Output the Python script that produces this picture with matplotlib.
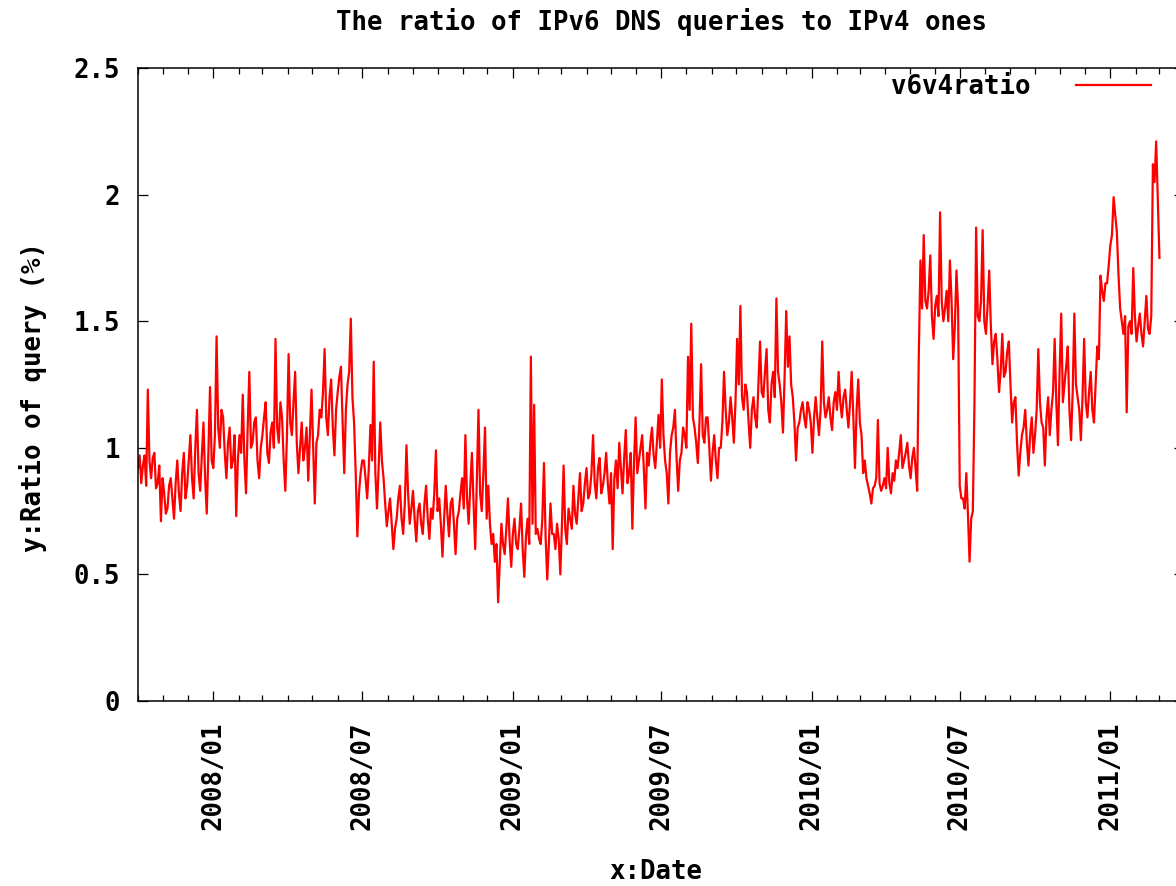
import pandas as pd
import matplotlib
matplotlib.use('Agg')
import matplotlib.pyplot as plt
import matplotlib.dates as mdates
from matplotlib.ticker import FormatStrFormatter

# v6/v4 query ratio (%), every 4 days from 2007-10-01 ...
ratio_2007q4 = [0.92, 0.86, 0.97, 1.23, 0.88, 0.98, 0.86, 0.71, 0.82, 0.76,
                0.88, 0.72, 0.95, 0.75, 0.98, 0.85, 1.05, 0.80, 1.15, 0.83,
                1.10, 0.74, 1.24]
ratio_2008h1 = [0.92, 1.44, 1.00, 1.12, 0.88, 1.08, 0.95, 0.73, 1.05, 1.21,
                0.82, 1.30, 1.02, 1.12, 0.88, 1.05, 1.18, 0.94, 1.10, 1.43,
                1.02, 1.12, 0.83, 1.37, 1.05, 1.30, 0.90, 1.10, 1.00, 0.87,
                1.23, 0.78, 1.05, 1.12, 1.39, 1.05, 1.27, 0.97, 1.22, 1.32,
                0.90, 1.25, 1.51, 1.10, 0.65, 0.90]
ratio_2008h2 = [0.95, 0.80, 1.09, 1.34, 0.76, 1.10, 0.88, 0.69, 0.80, 0.60,
                0.72, 0.85, 0.66, 1.01, 0.70, 0.83, 0.63, 0.78, 0.66, 0.85,
                0.64, 0.72, 0.99, 0.80, 0.57, 0.85, 0.65, 0.80, 0.58, 0.75,
                0.88, 1.05, 0.70, 0.98, 0.60, 1.15, 0.75, 1.08, 0.85, 0.62,
                0.55, 0.39, 0.70, 0.58, 0.80, 0.53]
ratio_2009h1 = [0.72, 0.60, 0.78, 0.49, 0.72, 1.36, 1.17, 0.68, 0.62, 0.94,
                0.48, 0.78, 0.66, 0.70, 0.50, 0.93, 0.62, 0.72, 0.85, 0.70,
                0.90, 0.78, 0.92, 0.82, 1.05, 0.80, 0.96, 0.85, 0.98, 0.78,
                0.60, 0.95, 1.02, 0.82, 1.07, 0.90, 0.68, 1.12, 0.95, 1.05,
                0.76, 0.93, 1.08, 0.92, 1.13, 1.27]
ratio_2009h2 = [0.95, 0.78, 1.05, 1.15, 0.83, 0.98, 1.05, 1.36, 1.49, 1.08,
                0.94, 1.33, 1.02, 1.12, 0.87, 1.05, 0.88, 1.00, 1.30, 1.05,
                1.20, 1.02, 1.43, 1.56, 1.15, 1.22, 1.00, 1.20, 1.08, 1.42,
                1.20, 1.39, 1.10, 1.30, 1.59, 1.25, 1.06, 1.54, 1.44, 1.20,
                0.95, 1.10, 1.18, 1.08, 1.15, 0.98]
ratio_2010h1 = [1.20, 1.05, 1.42, 1.12, 1.20, 1.07, 1.22, 1.30, 1.12, 1.23,
                1.08, 1.30, 0.92, 1.27, 1.05, 0.95, 0.85, 0.78, 0.85, 1.11,
                0.83, 0.88, 1.00, 0.82, 0.87, 0.92, 1.05, 0.95, 1.02, 0.88,
                1.00, 0.83, 1.74, 1.84, 1.55, 1.76, 1.43, 1.60, 1.93, 1.50,
                1.62, 1.74, 1.35, 1.70, 0.85]
ratio_2010h2 = [0.80, 0.90, 0.55, 0.75, 1.87, 1.50, 1.86, 1.45, 1.70, 1.33,
                1.45, 1.22, 1.45, 1.30, 1.42, 1.10, 1.20, 0.89, 1.05, 1.15,
                0.93, 1.12, 1.05, 1.39, 1.10, 0.93, 1.20, 1.15, 1.43, 1.01,
                1.53, 1.25, 1.40, 1.03, 1.53, 1.20, 1.03, 1.43, 1.12, 1.30,
                1.10, 1.40, 1.68, 1.58, 1.65]
ratio_2011 = [1.80, 1.99, 1.85, 1.55, 1.45, 1.14, 1.50, 1.71, 1.42, 1.53,
              1.40, 1.60, 1.45, 2.12, 2.21, 1.75]

# ... and the readings taken 2 days after each of those
mid_2007q4 = [0.97, 0.93, 0.85, 0.95, 0.96, 0.84, 0.93, 0.88, 0.74, 0.85,
              0.80, 0.86, 0.82, 0.90, 0.80, 0.95, 0.88, 1.00, 0.90, 0.97,
              0.88, 0.98, 0.95]
mid_2008h1 = [1.05, 1.08, 1.15, 0.98, 1.02, 0.92, 1.05, 0.95, 0.98, 0.95,
              1.08, 1.00, 1.10, 0.95, 1.00, 1.12, 0.98, 1.06, 1.00, 1.08,
              1.18, 0.95, 1.05, 1.10, 1.18, 1.02, 1.00, 0.95, 1.08, 1.05,
              1.00, 1.02, 1.15, 1.22, 1.12, 1.20, 1.08, 1.15, 1.28, 1.10,
              1.15, 1.30, 1.20, 0.90, 0.82, 0.95]
mid_2008h2 = [0.88, 0.92, 0.95, 0.90, 0.92, 0.95, 0.78, 0.75, 0.70, 0.68,
              0.80, 0.72, 0.78, 0.82, 0.76, 0.72, 0.75, 0.70, 0.78, 0.72,
              0.76, 0.82, 0.75, 0.70, 0.72, 0.74, 0.78, 0.70, 0.72, 0.82,
              0.76, 0.80, 0.85, 0.78, 0.88, 0.82, 0.90, 0.72, 0.70, 0.66,
              0.62, 0.55, 0.62, 0.68, 0.64, 0.66]
mid_2009h1 = [0.62, 0.68, 0.60, 0.65, 0.62, 0.70, 0.66, 0.64, 0.72, 0.65,
              0.62, 0.66, 0.60, 0.64, 0.70, 0.68, 0.76, 0.68, 0.74, 0.80,
              0.75, 0.86, 0.80, 0.90, 0.86, 0.92, 0.82, 0.90, 0.86, 0.90,
              0.88, 0.84, 0.92, 0.96, 0.86, 0.98, 0.94, 0.90, 1.00, 0.92,
              0.98, 1.02, 0.97, 1.02, 1.00, 1.05]
mid_2009h2 = [0.90, 0.98, 1.08, 0.96, 0.95, 1.08, 1.00, 1.15, 1.12, 1.02,
              1.10, 1.05, 1.12, 1.00, 0.98, 0.95, 1.00, 1.10, 1.15, 1.10,
              1.12, 1.18, 1.25, 1.20, 1.25, 1.10, 1.15, 1.12, 1.25, 1.22,
              1.30, 1.15, 1.25, 1.20, 1.30, 1.18, 1.28, 1.32, 1.25, 1.10,
              1.08, 1.15, 1.12, 1.18, 1.10, 1.12]
mid_2010h1 = [1.12, 1.15, 1.18, 1.15, 1.12, 1.18, 1.15, 1.18, 1.20, 1.15,
              1.18, 1.12, 1.15, 1.10, 0.90, 0.88, 0.82, 0.84, 0.88, 0.86,
              0.85, 0.84, 0.86, 0.90, 0.95, 0.98, 0.92, 0.98, 0.93, 0.96,
              0.92, 1.37, 1.55, 1.58, 1.62, 1.52, 1.56, 1.52, 1.58, 1.55,
              1.50, 1.58, 1.48, 1.55, 0.80]
mid_2010h2 = [0.76, 0.74, 0.72, 1.18, 1.52, 1.58, 1.50, 1.56, 1.48, 1.42,
              1.35, 1.30, 1.28, 1.38, 1.25, 1.18, 1.02, 0.98, 1.08, 1.02,
              1.05, 0.98, 1.15, 1.18, 1.08, 1.12, 1.05, 1.22, 1.18, 1.30,
              1.18, 1.32, 1.15, 1.22, 1.25, 1.15, 1.20, 1.18, 1.22, 1.15,
              1.25, 1.35, 1.62, 1.65, 1.72]
mid_2011 = [1.84, 1.92, 1.68, 1.50, 1.52, 1.48, 1.45, 1.52, 1.48, 1.45,
            1.50, 1.47, 1.52, 2.05, 1.98]

ratio4 = (ratio_2007q4 + ratio_2008h1 + ratio_2008h2 + ratio_2009h1
          + ratio_2009h2 + ratio_2010h1 + ratio_2010h2 + ratio_2011)
mid4 = (mid_2007q4 + mid_2008h1 + mid_2008h2 + mid_2009h1
        + mid_2009h2 + mid_2010h1 + mid_2010h2 + mid_2011)

ratio = []
for i, v in enumerate(ratio4):
    ratio.append(v)
    if i < len(mid4):
        ratio.append(mid4[i])
dates = pd.date_range('2007-10-01', periods=len(ratio), freq='2D')

y_ticks = [0, 0.5, 1, 1.5, 2, 2.5]

plt.rcParams['font.family'] = 'DejaVu Sans Mono'
plt.rcParams['font.weight'] = 'bold'
plt.rcParams['axes.labelweight'] = 'bold'
plt.rcParams['font.size'] = 18.5

W, H = 1176, 886
fig = plt.figure(figsize=(W / 100, H / 100), dpi=100)
# plot box runs off the right edge, like the cropped original
ax = fig.add_axes([138 / W, (H - 701) / H, 1046 / W, 633 / H])

ax.plot(dates, ratio, color='#ff0000', lw=1.6, label='v6v4ratio')

ax.set_xlim(pd.Timestamp('2007-10-01'), pd.Timestamp('2011-04-01'))
ax.set_ylim(0, 2.5)
ax.set_yticks(y_ticks)
ax.yaxis.set_major_formatter(FormatStrFormatter('%g'))

ax.xaxis.set_major_locator(mdates.MonthLocator(bymonth=[1, 7]))
ax.xaxis.set_minor_locator(mdates.MonthLocator())
ax.xaxis.set_major_formatter(mdates.DateFormatter('%Y/%m'))
plt.setp(ax.get_xticklabels(), rotation=90)

for side in ax.spines.values():
    side.set_linewidth(1.1)
ax.tick_params(which='both', direction='in', top=True, right=True, width=0.9)
ax.tick_params(which='major', length=7.5)
ax.tick_params(which='minor', length=4)
ax.tick_params(axis='y', pad=13)
ax.tick_params(axis='x', pad=15)

ax.set_title('The ratio of IPv6 DNS queries to IPv4 ones',
             fontsize=18.5, fontweight='bold', pad=27)
ax.set_ylabel('y:Ratio of query (%)', ha='center', va='center')
ax.yaxis.set_label_coords((33 - 138) / 1046, (701 - 397) / 633)
ax.set_xlabel('x:Date', ha='center', va='center')
ax.xaxis.set_label_coords((656 - 138) / 1046, (701 - 872) / 633)

ax.legend(loc='upper right', bbox_to_anchor=(1151 / W, 1 - 74 / H),
          bbox_transform=fig.transFigure, frameon=False, markerfirst=False,
          handlelength=2.9, handletextpad=1.8, borderpad=0, borderaxespad=0)

fig.savefig('out.png', dpi=100)
